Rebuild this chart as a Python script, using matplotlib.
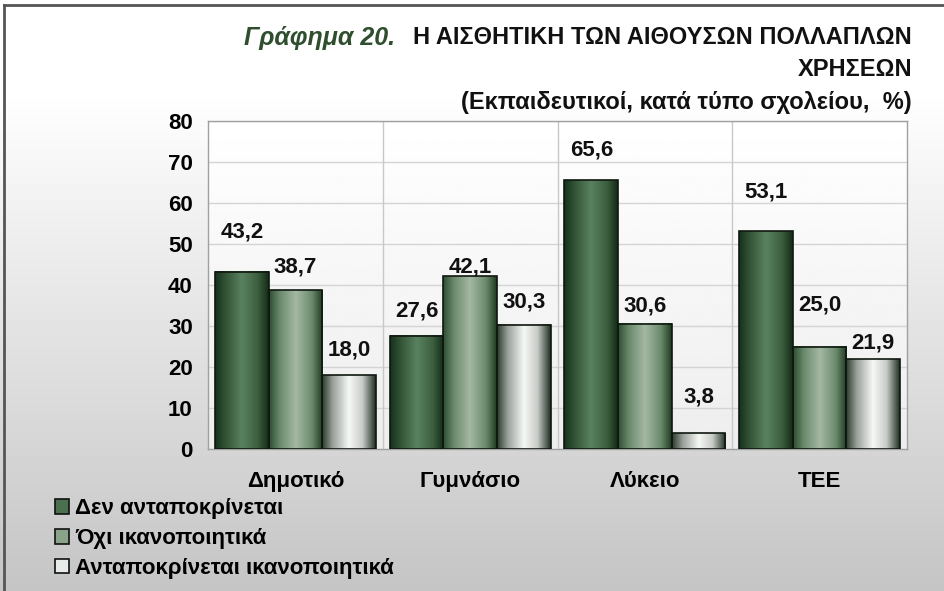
import numpy as np
import matplotlib
matplotlib.use("Agg")
import matplotlib.pyplot as plt
from matplotlib.colors import LinearSegmentedColormap
from matplotlib.patches import Patch
from matplotlib.lines import Line2D

# ---- data ----
categories = ["Δημοτικό", "Γυμνάσιο", "Λύκειο", "ΤΕΕ"]
series_names = ["Δεν ανταποκρίνεται", "Όχι ικανοποιητικά", "Ανταποκρίνεται ικανοποιητικά"]
den_antapokrinetai = [43.2, 27.6, 65.6, 53.1]
oxi_ikanopoiitika = [38.7, 42.1, 30.6, 25.0]
antapokrinetai = [18.0, 30.3, 3.8, 21.9]
yticks = [0, 10, 20, 30, 40, 50, 60, 70, 80]
# label offsets above bar top (pixels), as placed in the reference
label_offsets = [
    [40, 25, 30, 39],
    [23, 9, 18, 42],
    [25, 23, 36, 16],
]

plt.rcParams['font.family'] = ['Liberation Sans', 'DejaVu Sans']
FS = 16

W, H = 945, 591
fig = plt.figure(figsize=(W / 100, H / 100), dpi=100)

# figure background gradient
bg = fig.add_axes([0, 0, 1, 1], zorder=-10)
grad = np.ones((H, 1))
yy = np.arange(H)
vals = np.where(yy < 90, 1.0, 1.0 - (yy - 90) / (H - 90) * 0.23)
grad[:, 0] = vals
bg.imshow(grad, cmap='gray', vmin=0, vmax=1, aspect='auto', extent=[0, 1, 0, 1], origin='upper')
bg.set_xlim(0, 1); bg.set_ylim(0, 1)
bg.axis('off')
# frame lines left/top
bg.add_line(Line2D([4 / W, 4 / W], [0, 1 - 5 / H], color='#555555', lw=2))
bg.add_line(Line2D([4 / W, 1], [1 - 5 / H, 1 - 5 / H], color='#555555', lw=2))

# plot area
x0, x1, y0, y1 = 208, 907, 121, 449
ax = fig.add_axes([x0 / W, 1 - y1 / H, (x1 - x0) / W, (y1 - y0) / H])
ax.set_facecolor('none')
pg = np.linspace(1.0, 0.93, 200).reshape(-1, 1)
ax.imshow(pg, cmap='gray', vmin=0, vmax=1, aspect='auto', extent=[-0.5, 3.5, 0, 80],
          origin='upper', zorder=0)

cmaps = [
    LinearSegmentedColormap.from_list('s1', [(0, '#15301a'), (0.15, '#2c4c30'), (0.5, '#5a8260'),
                                             (0.8, '#3a5e3e'), (1, '#142a16')]),
    LinearSegmentedColormap.from_list('s2', [(0, '#2e4c32'), (0.2, '#6a8a6c'), (0.5, '#a4b8a4'),
                                             (0.8, '#6a8a6c'), (1, '#1e381f')]),
    LinearSegmentedColormap.from_list('s3', [(0, '#2a3a2c'), (0.2, '#9aa09a'), (0.5, '#f6f8f6'),
                                             (0.75, '#c8ccc8'), (1, '#1e2e20')]),
]
legend_cols = ['#4a7050', '#8aa48a', '#e8ece8']

w = 54 / 176
x = np.arange(len(categories))
all_series = [den_antapokrinetai, oxi_ikanopoiitika, antapokrinetai]
gradrow = np.linspace(0, 1, 256).reshape(1, -1)
for i, vals_s in enumerate(all_series):
    bars = ax.bar(x + (i - 1) * w, vals_s, width=w, facecolor='none', edgecolor='#101810',
                  linewidth=1.2, zorder=4)
    for j, b in enumerate(bars):
        bx, bw, bh = b.get_x(), b.get_width(), b.get_height()
        ax.imshow(gradrow, cmap=cmaps[i], aspect='auto', extent=[bx, bx + bw, 0, bh],
                  zorder=3, interpolation='bilinear')
        ax.annotate(f"{vals_s[j]:.1f}".replace('.', ','), (bx + bw / 2, bh),
                    xytext=(0, label_offsets[i][j] * 0.72), textcoords='offset points',
                    ha='center', va='center', fontsize=FS, fontweight='bold', color='#111111',
                    zorder=6)

ax.set_xlim(-0.5, 3.5)
ax.set_ylim(0, 80)
ax.set_yticks(yticks)
ax.set_yticklabels([str(t) for t in yticks], fontsize=FS, fontweight='bold')
ax.set_xticks(x)
ax.set_xticklabels(categories, fontsize=FS, fontweight='bold')
ax.tick_params(length=0, pad=11, axis='y')
ax.tick_params(length=0, pad=16, axis='x')
for t in yticks[1:]:
    ax.axhline(t, color='#d4d4d4', lw=1, zorder=1)
for s in [0.5, 1.5, 2.5]:
    ax.axvline(s, color='#c8c8c8', lw=1, zorder=1)
for sp in ax.spines.values():
    sp.set_color('#a0a0a0')
    sp.set_linewidth(1)

# title
TFS = 17
t1 = fig.text(912 / W, 1 - 38 / H, "Η ΑΙΣΘΗΤΙΚΗ ΤΩΝ ΑΙΘΟΥΣΩΝ ΠΟΛΛΑΠΛΩΝ", ha='right', va='center',
              fontsize=TFS, fontweight='bold', color='#111111')
fig.canvas.draw()
bb = t1.get_window_extent()
fig.text((bb.x0 - 18) / W, 1 - 38 / H, "Γράφημα 20.", ha='right', va='center', fontsize=18,
         fontweight='bold', fontstyle='italic', color='#2e4e2e')
fig.text(912 / W, 1 - 69 / H, "ΧΡΗΣΕΩΝ", ha='right', va='center', fontsize=TFS,
         fontweight='bold', color='#111111')
fig.text(912 / W, 1 - 102 / H, "(Εκπαιδευτικοί, κατά τύπο σχολείου,  %)", ha='right', va='center',
         fontsize=TFS, fontweight='bold', color='#111111')

# legend
handles = [Patch(facecolor=c, edgecolor='#111111', linewidth=1.2) for c in legend_cols]
fig.legend(handles, series_names, loc='upper left', bbox_to_anchor=(55 / W, 1 - 498 / H),
           frameon=False, prop={'size': FS, 'weight': 'bold'}, handlelength=0.65,
           handleheight=0.65, handletextpad=0.25, labelspacing=0.4, borderpad=0, borderaxespad=0)

fig.savefig("out.png", dpi=100)
